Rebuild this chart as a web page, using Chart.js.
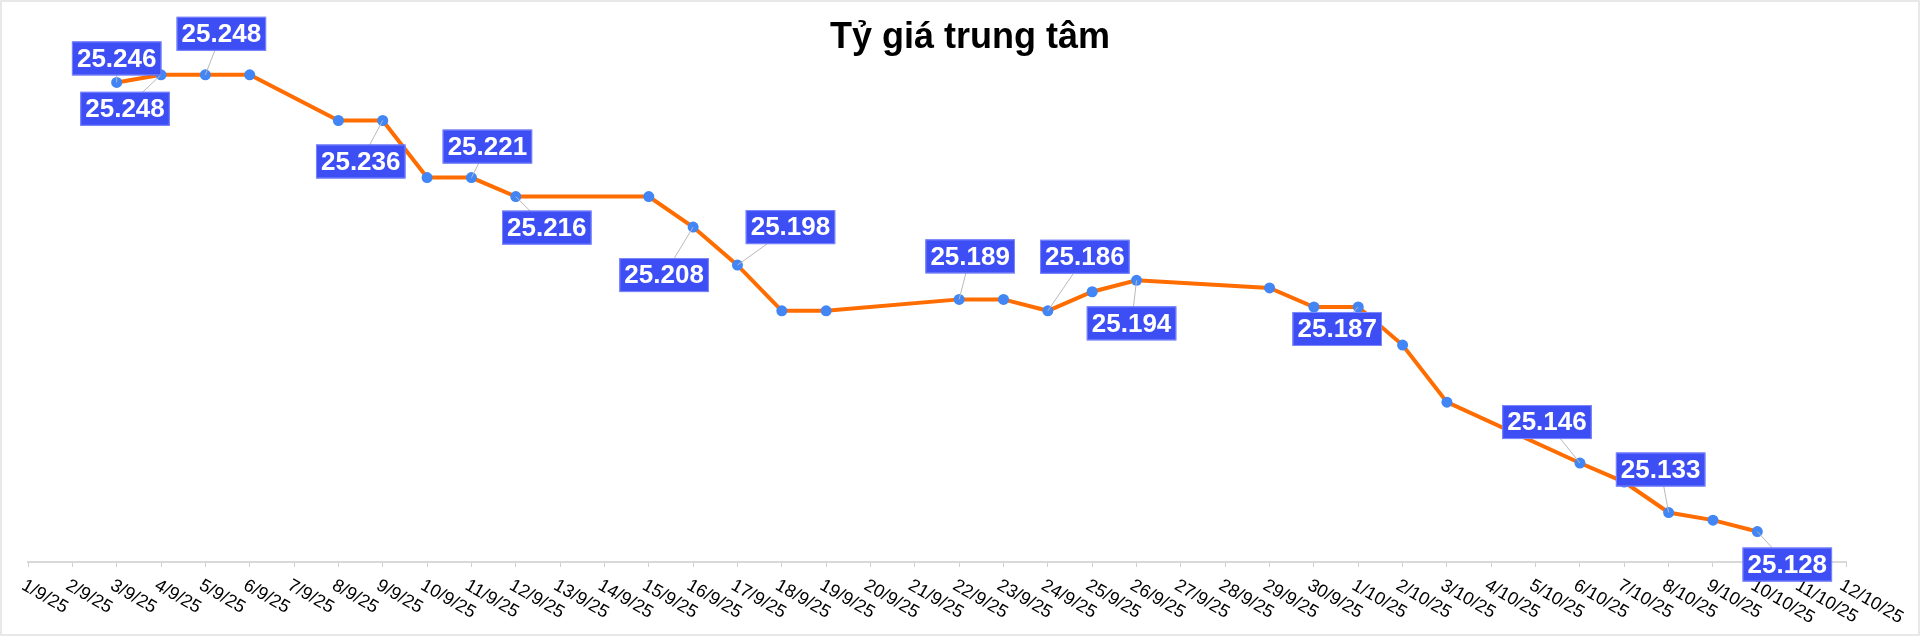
<!DOCTYPE html>
<html lang="vi">
<head>
<meta charset="utf-8">
<title>Tỷ giá trung tâm</title>
<script src="https://cdn.jsdelivr.net/npm/chart.js@4.4.1/dist/chart.umd.min.js"></script>
<style>
  html, body { margin: 0; padding: 0; background: #fff; }
  #wrap { position: relative; width: 1920px; height: 637px; }
</style>
</head>
<body>
<div id="wrap"><canvas id="rate-chart"></canvas></div>
<script>
const chartTitle = 'Tỷ giá trung tâm';

const dates = [
    '1/9/25', '2/9/25', '3/9/25', '4/9/25', '5/9/25', '6/9/25', '7/9/25', '8/9/25', '9/9/25', '10/9/25',
    '11/9/25', '12/9/25', '13/9/25', '14/9/25', '15/9/25', '16/9/25', '17/9/25', '18/9/25', '19/9/25', '20/9/25',
    '21/9/25', '22/9/25', '23/9/25', '24/9/25', '25/9/25', '26/9/25', '27/9/25', '28/9/25', '29/9/25', '30/9/25',
    '1/10/25', '2/10/25', '3/10/25', '4/10/25', '5/10/25', '6/10/25', '7/10/25', '8/10/25', '9/10/25', '10/10/25',
    '11/10/25', '12/10/25'
];

// VND per USD, empty on days without a published rate
const centralRate = [
    null, null, 25246, 25248, 25248, 25248, null, 25236, 25236, 25221,
    25221, 25216, null, null, 25216, 25208, 25198, 25186, 25186, null,
    null, 25189, 25189, 25186, 25191, 25194, null, null, 25192, 25187,
    25187, 25177, 25162, null, null, 25146, 25141, 25133, 25131, 25128,
    null, null
];

const rateMin = 25120;
const rateMax = 25250;

// where each value box sits relative to its point (dx, dy)
const boxPlacement = {
    '3/9/25': [0, -24],
    '4/9/25': [-36, 34],
    '5/9/25': [16, -41],
    '9/9/25': [-22, 41],
    '11/9/25': [16, -31],
    '12/9/25': [31, 31],
    '16/9/25': [-29, 48],
    '17/9/25': [53, -38],
    '22/9/25': [11, -43],
    '24/9/25': [37, -54],
    '26/9/25': [-5, 43],
    '1/10/25': [-21, 22],
    '6/10/25': [-33, -41],
    '8/10/25': [-8, -43],
    '10/10/25': [30, 33]
};

const FONT = '"Liberation Sans", Arial, sans-serif';

function formatRate(v) {
    return String(v).replace(/\B(?=(\d{3})+(?!\d))/g, '.');
}

const frame = {
    id: 'frame',
    beforeDraw(chart) {
        const { ctx, width, height } = chart;
        ctx.save();
        ctx.fillStyle = '#fff';
        ctx.fillRect(0, 0, width, height);
        ctx.strokeStyle = '#e8e8e8';
        ctx.lineWidth = 2;
        ctx.strokeRect(1, 1, width - 2, height - 3);
        ctx.restore();
    }
};

// date labels slant down to the right, starting at their tick
const slantedDates = {
    id: 'slantedDates',
    afterDraw(chart) {
        const x = chart.scales.x;
        const ctx = chart.ctx;
        ctx.save();
        ctx.font = '18px ' + FONT;
        ctx.fillStyle = '#000';
        ctx.textAlign = 'left';
        ctx.textBaseline = 'top';
        chart.data.labels.forEach((label, i) => {
            ctx.save();
            ctx.translate(x.getPixelForValue(i) - 0.5, x.top + 14.5);
            ctx.rotate(Math.PI / 6);
            ctx.fillText(label, 0, 0);
            ctx.restore();
        });
        ctx.restore();
    }
};

const rateBoxes = {
    id: 'rateBoxes',
    afterDraw(chart) {
        const meta = chart.getDatasetMeta(0);
        const ctx = chart.ctx;
        const boxes = Object.entries(boxPlacement).map(([day, [dx, dy]]) => {
            const i = dates.indexOf(day);
            const pt = meta.data[i];
            return { pt, text: formatRate(centralRate[i]), cx: pt.x + dx, cy: pt.y + dy };
        });

        ctx.save();
        ctx.strokeStyle = '#b9b9b9';
        ctx.lineWidth = 1;
        boxes.forEach(b => {
            ctx.beginPath();
            ctx.moveTo(b.pt.x, b.pt.y);
            ctx.lineTo(b.cx, b.cy);
            ctx.stroke();
        });

        ctx.font = 'bold 26px ' + FONT;
        ctx.textAlign = 'center';
        ctx.textBaseline = 'middle';
        boxes.forEach(b => {
            const w = ctx.measureText(b.text).width + 10;
            const h = 34;
            ctx.fillStyle = '#3d4ef5';
            ctx.fillRect(b.cx - w / 2, b.cy - h / 2, w, h);
            ctx.strokeStyle = '#7d88fb';
            ctx.strokeRect(b.cx - w / 2 + 0.5, b.cy - h / 2 + 0.5, w - 1, h - 1);
            ctx.fillStyle = '#fff';
            ctx.fillText(b.text, b.cx, b.cy + 1);
        });
        ctx.restore();
    }
};

new Chart(document.getElementById('rate-chart'), {
    type: 'line',
    data: {
        labels: dates,
        datasets: [{
            label: chartTitle,
            data: centralRate,
            borderColor: '#ff6d01',
            borderWidth: 4,
            tension: 0,
            spanGaps: true,
            pointRadius: 5.5,
            pointHoverRadius: 5.5,
            pointBackgroundColor: '#4285f4',
            pointBorderWidth: 0
        }]
    },
    options: {
        responsive: true,
        maintainAspectRatio: false,
        animation: false,
        events: [],
        layout: {
            padding: { left: 28, right: 8, top: 0, bottom: 70 }
        },
        plugins: {
            legend: { display: false },
            tooltip: { enabled: false },
            title: {
                display: true,
                text: chartTitle,
                color: '#000',
                font: { family: FONT, size: 36, weight: 'bold', lineHeight: 1.2 },
                padding: { top: 16, bottom: 8 }
            }
        },
        scales: {
            x: {
                ticks: { display: false, autoSkip: false },
                grid: {
                    drawOnChartArea: false,
                    drawTicks: true,
                    tickLength: 5,
                    color: '#cfcfcf'
                },
                border: { color: '#d9d9d9', width: 2 }
            },
            y: {
                position: 'right',
                min: rateMin,
                max: rateMax,
                ticks: { display: false },
                grid: { display: false },
                border: { display: false },
                // hidden right-hand gutter keeps the plot at 28..1846 while the title centres at 970
                afterFit(scale) { scale.width = 66; }
            }
        }
    },
    plugins: [frame, slantedDates, rateBoxes]
});
</script>
</body>
</html>
